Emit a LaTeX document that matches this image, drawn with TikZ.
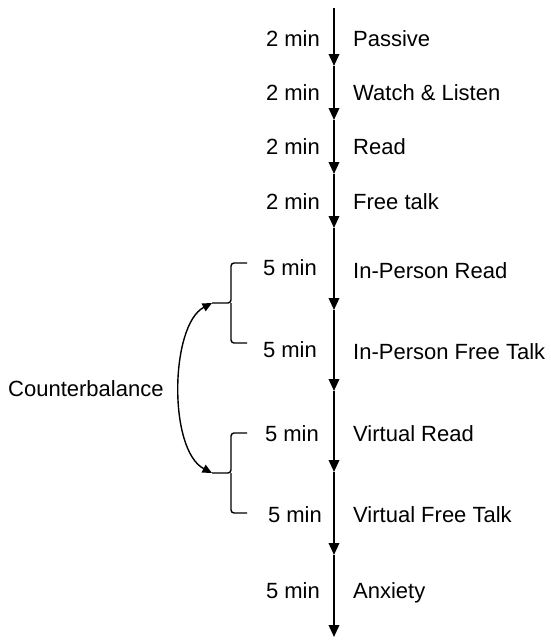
\documentclass[tikz,border=0pt]{standalone}
\usepackage{fontspec}
\setmainfont{Liberation Sans}
\usetikzlibrary{arrows.meta}
\begin{document}
\begin{tikzpicture}[x=1pt,y=-1pt,
  lbl/.style={inner sep=0pt,font=\fontsize{22}{26}\selectfont},
  timeline/.style={line width=2pt,-{Triangle[width=10.5pt,length=12pt]}},
  brace/.style={line width=1.4pt,rounded corners=3pt},
  swap/.style={line width=1.4pt,{Triangle[width=8.5pt,length=9.5pt]}-{Triangle[width=8.5pt,length=9.5pt]}}]
\useasboundingbox (0,0) rectangle (550,643);
% timeline points
\foreach \n/\y in {0/8,1/66,2/120,3/174,4/228,5/310,6/391,7/472,8/555,9/637}
  \coordinate (p\n) at (334,\y);
\foreach \a/\b in {0/1,1/2,2/3,3/4,4/5,5/6,6/7,7/8,8/9}
  \draw[timeline] (p\a) -- (p\b);
% labels
\node[lbl,anchor=base west] (l1) at (353,46) {Passive};
\node[lbl,anchor=base west] (l2) at (353,100) {Watch \& Listen};
\node[lbl,anchor=base west] (l3) at (353,154) {Read};
\node[lbl,anchor=base west] (l4) at (353,209) {Free talk};
\node[lbl,anchor=base west] (l5) at (353,278) {In-Person Read};
\node[lbl,anchor=base west] (l6) at (353,359) {In-Person Free Talk};
\node[lbl,anchor=base west] (l7) at (353,441) {Virtual Read};
\node[lbl,anchor=base west] (l8) at (353,522) {Virtual Free Talk};
\node[lbl,anchor=base west] (l9) at (353,598) {Anxiety};
% times
\node[lbl,anchor=base east] (t1) at (320,46) {2 min};
\node[lbl,anchor=base east] (t2) at (320,100) {2 min};
\node[lbl,anchor=base east] (t3) at (320,154) {2 min};
\node[lbl,anchor=base east] (t4) at (320,209) {2 min};
\node[lbl,anchor=base east] (t5) at (317,275.5) {5 min};
\node[lbl,anchor=base east] (t6) at (317,357.5) {5 min};
\node[lbl,anchor=base east] (t7) at (319,441) {5 min};
\node[lbl,anchor=base east] (t8) at (322,522) {5 min};
\node[lbl,anchor=base east] (t9) at (320,598) {5 min};
% counterbalance
\node[lbl,anchor=base west] (cb) at (8,396.5) {Counterbalance};
% braces
\coordinate (b1) at (212,303);
\coordinate (b2) at (212,473);
\draw[brace] (247,263) -- (231,263) -- (231,303) -- (b1);
\draw[brace] (247,343) -- (231,343) -- (231,303);
\draw[brace] (247,433) -- (231,433) -- (231,473) -- (b2);
\draw[brace] (247,513) -- (231,513) -- (231,473);
% curved double arrow
\draw[swap] (b1) .. controls (170,325) and (168,450) .. (b2);
\end{tikzpicture}
\end{document}
